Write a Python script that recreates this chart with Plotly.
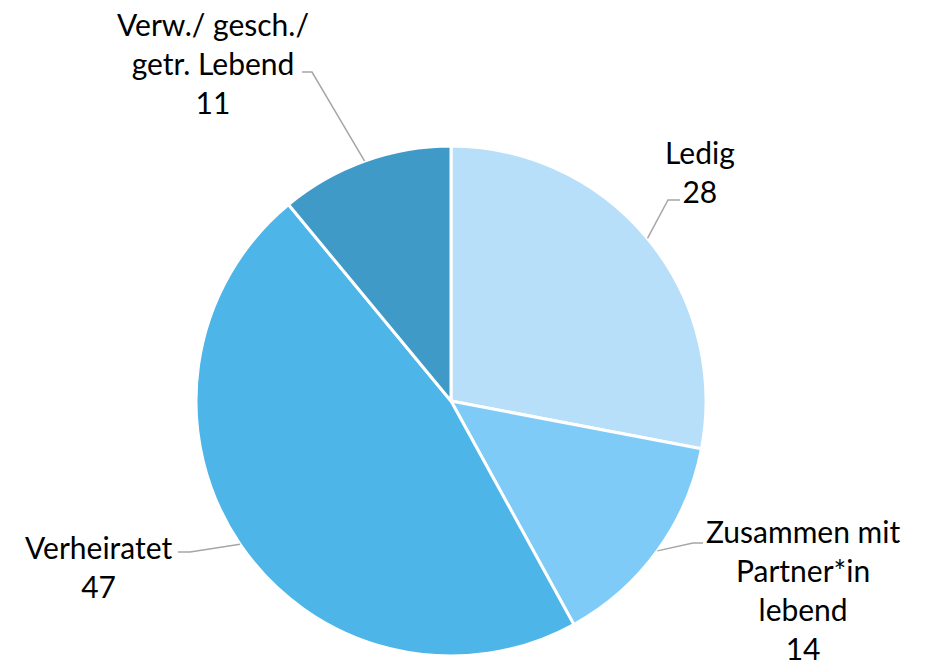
import math
import plotly.graph_objects as go

# Data
categories = ["Ledig", "Zusammen mit<br>Partner*in<br>lebend", "Verheiratet", "Verw./ gesch./<br>getr. Lebend"]
values = [28, 14, 47, 11]
colors = ["#B8DFF9", "#7FCBF7", "#4DB5E8", "#3F9AC8"]

W, H = 925, 665
CX, CY, R = 451, 401, 255  # pie center/radius in px (layout)

# label layout: label center (x, middle y) and leader elbow (x, y, tail end x)
label_pos = [(700, 172), (803, 589), (98, 566), (213, 63)]
elbows = [(668, 200, 680), (693, 543, 703), (190, 552, 178), (312, 72, 302)]

fig = go.Figure(go.Pie(
    labels=categories, values=values, sort=False, direction="clockwise", rotation=0,
    marker=dict(colors=colors, line=dict(color="white", width=3)),
    textinfo="none", hoverinfo="label+value", showlegend=False,
    domain=dict(x=[(CX - R) / W, (CX + R) / W], y=[(H - CY - R) / H, (H - CY + R) / H]),
))

def px(x, y):
    return x / W, (H - y) / H

total = sum(values)
cum = 0
shapes, annotations = [], []
for i, (cat, v) in enumerate(zip(categories, values)):
    mid = (cum + v / 2) / total * 2 * math.pi
    cum += v
    sx = CX + R * math.sin(mid)
    sy = CY - R * math.cos(mid)
    ex, ey, tx = elbows[i]
    pts = [px(sx, sy), px(ex, ey), px(tx, ey)]
    path = "M {} {} L {} {} L {} {}".format(pts[0][0], pts[0][1], pts[1][0], pts[1][1], pts[2][0], pts[2][1])
    shapes.append(dict(type="path", path=path, xref="paper", yref="paper",
                       line=dict(color="#A6A6A6", width=1.5)))
    lx, ly = px(*label_pos[i])
    annotations.append(dict(x=lx, y=ly, xref="paper", yref="paper", showarrow=False,
                            text=f"{cat}<br>{v}", xanchor="center", yanchor="middle",
                            align="center", font=dict(size=30, color="#000000", family="Lato")))

fig.update_layout(width=W, height=H, margin=dict(l=0, r=0, t=0, b=0),
                  paper_bgcolor="white", plot_bgcolor="white",
                  shapes=shapes, annotations=annotations)
fig.write_html("out.html", config={"displayModeBar": False},
               post_script="document.body.style.margin='0';")
